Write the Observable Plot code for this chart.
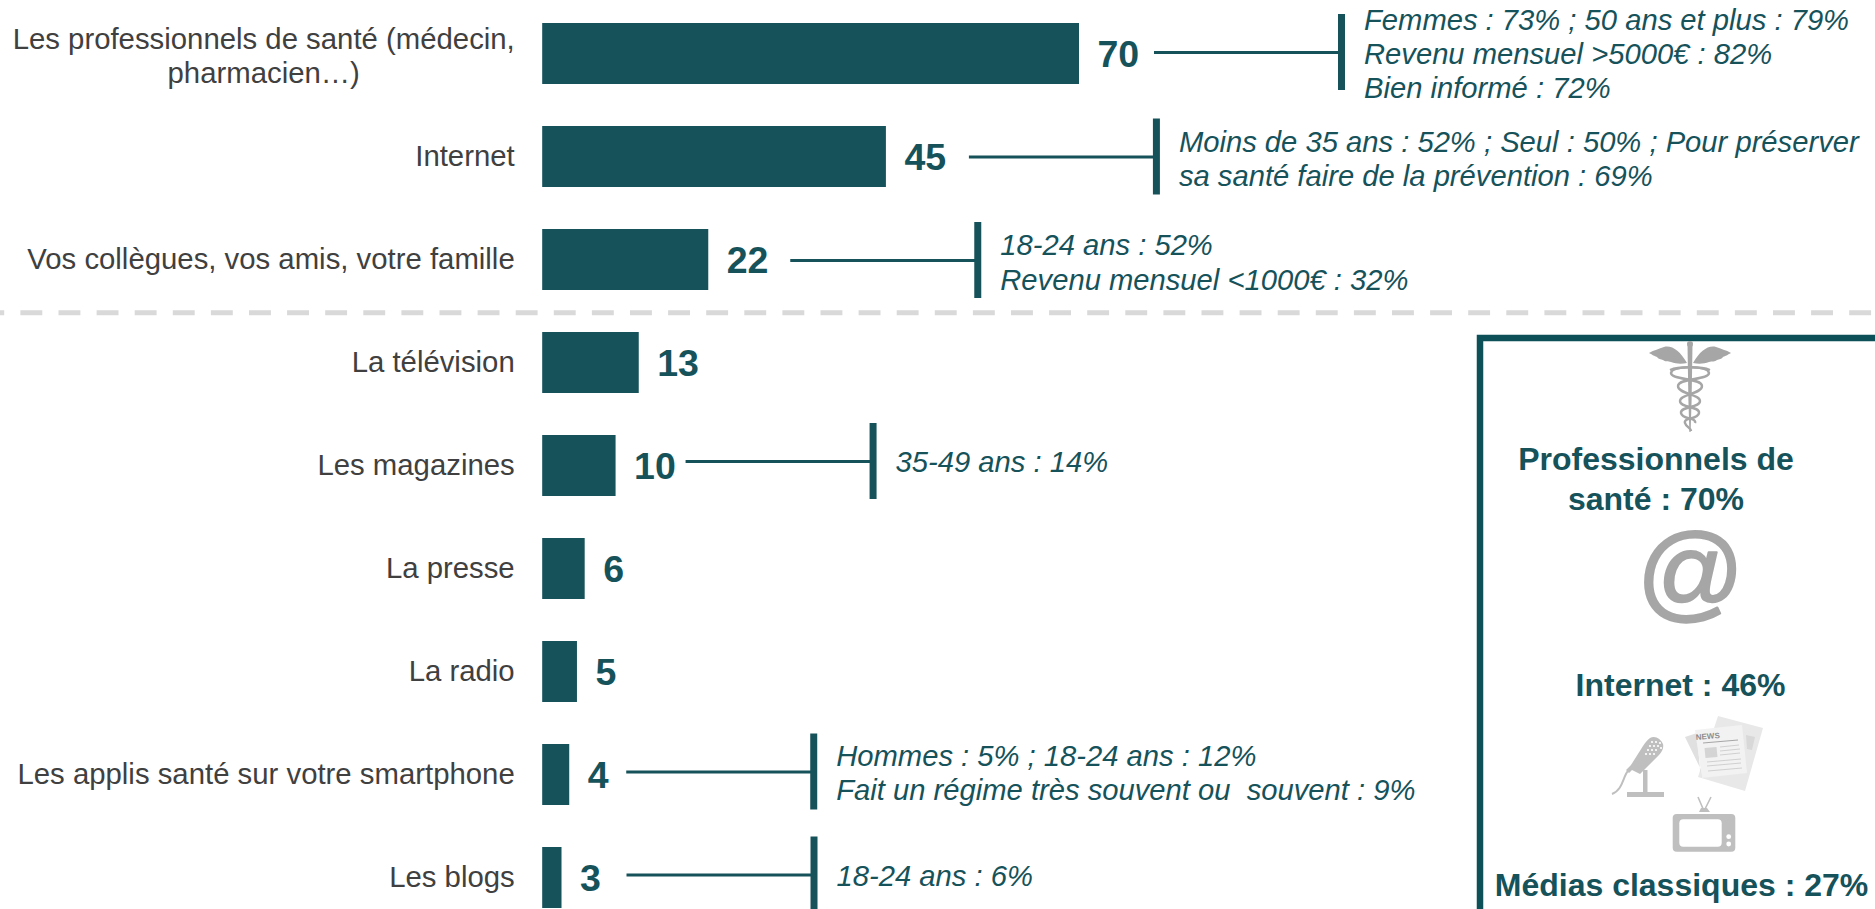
<!DOCTYPE html>
<html lang="fr">
<head>
<meta charset="utf-8">
<title>Sources d'information santé</title>
<style>
html,body{margin:0;padding:0;background:#fff;overflow:hidden}
svg{display:block}
</style>
<script src="https://cdn.jsdelivr.net/npm/d3@7"></script>
<script src="https://cdn.jsdelivr.net/npm/@observablehq/plot@0.6"></script>
</head>
<body>
<div id="chart"></div>
<script>
const categories = [
  "Les professionnels de santé (médecin,\npharmacien…)",
  "Internet",
  "Vos collègues, vos amis, votre famille",
  "La télévision",
  "Les magazines",
  "La presse",
  "La radio",
  "Les applis santé sur votre smartphone",
  "Les blogs"
];
const values = [70, 45, 22, 13, 10, 6, 5, 4, 3];
const notes = [
  "Femmes : 73% ; 50 ans et plus : 79%\nRevenu mensuel >5000€ : 82%\nBien informé : 72%",
  "Moins de 35 ans : 52% ; Seul : 50% ; Pour préserver\nsa santé faire de la prévention : 69%",
  "18-24 ans : 52%\nRevenu mensuel <1000€ : 32%",
  null,
  "35-49 ans : 14%",
  null,
  null,
  "Hommes : 5% ; 18-24 ans : 12%\nFait un régime très souvent ou  souvent : 9%",
  "18-24 ans : 6%"
];
const panelTitles = ["Professionnels de\nsanté : 70%", "Internet : 46%", "Médias classiques : 27%"];

const teal = "#16525a";
const borderTeal = "#0e5058";
const labelGrey = "#404040";
const iconGrey = "#a6a6a6";
const axisStart = 0.5;
const domainEnd = 70;
const rangeX = [542.2, 1079];
const pxPerUnit = (rangeX[1] - rangeX[0]) / (domainEnd - axisStart);

const rows = categories.map((category, i) => ({category, value: values[i], note: notes[i]}));

// Placement of the annotation brackets (pixels from the end of each bar)
const bracketGap = [75, 83, 82, null, 70, null, null, 57, 65];
const bracketDy = [-1.5, 0, 0.5, null, -4.5, null, null, -3, -3];
const noteDy = [-1, 1, 1.5, null, -5.5, null, null, -3, -3.5];
const bracketLength = 187;

const annotationMarks = rows.flatMap((d, i) => {
  if (!d.note) return [];
  const start = d.value + bracketGap[i] / pxPerUnit;
  const end = start + bracketLength / pxPerUnit;
  return [
    Plot.ruleY([d], {y: "category", x1: () => start, x2: () => end, dy: bracketDy[i], stroke: teal, strokeWidth: 3}),
    Plot.tickX([d], {x: () => end, y: "category", dy: bracketDy[i], insetTop: -7.5, insetBottom: -7.5, stroke: teal, strokeWidth: 7}),
    Plot.text([d], {x: () => end, y: "category", text: "note", dx: 22.5, dy: noteDy[i], textAnchor: "start", lineHeight: 1.18, fontStyle: "italic", fontSize: 29.2, fill: teal})
  ];
});

function panel() {
  const g = d3.create("svg:g");
  g.append("path").attr("d", "M1877,338H1480V911").attr("fill", "none").attr("stroke", borderTeal).attr("stroke-width", 6.5);

  // caduceus
  const c = g.append("g").attr("fill", iconGrey);
  c.append("path").attr("d", "M1687.5,345H1692.5L1691.6,400L1690.6,432H1689.4L1688.4,400Z");
  c.append("circle").attr("cx", 1690).attr("cy", 344).attr("r", 3);
  const wing = "M1687,363C1680,351 1672,345 1664,347C1659,349 1654,350 1649,353C1653,355 1654,356 1657,357C1658,359 1661,359 1663,360C1665,362 1668,361 1671,362C1676,364 1682,364 1687,363Z";
  c.append("path").attr("d", wing);
  c.append("path").attr("d", wing).attr("transform", "translate(3380,0) scale(-1,1)");
  const snake = g.append("g").attr("fill", "none").attr("stroke", iconGrey).attr("stroke-width", 2.4);
  snake.append("path").attr("d", "M1710,370C1700,366 1672,366 1671,373C1671,380 1702,378 1702,386C1702,394 1680,394 1680,401C1680,408 1700,406 1699,413C1698,420 1683,417 1685,423C1686,427 1691,428 1691,431");
  snake.append("path").attr("d", "M1670,370C1680,366 1708,366 1709,373C1709,380 1678,378 1678,386C1678,394 1700,394 1700,401C1700,408 1680,406 1681,413C1682,420 1697,417 1695,423");

  // microphone
  const m = g.append("g");
  m.append("path").attr("d", "M1650,738C1655,735 1661,739 1663,744C1664,748 1662,752 1659,755L1640,774L1632,770L1629,773L1626,770L1631,765L1643,746C1645,743 1647,740 1650,738Z").attr("fill", "#bfbfbf");
  m.append("path").attr("d", "M1628,771C1623,776 1623,790 1612,794").attr("fill", "none").attr("stroke", "#bfbfbf").attr("stroke-width", 2);
  m.append("rect").attr("x", 1643).attr("y", 770).attr("width", 4.5).attr("height", 23).attr("fill", "#bfbfbf");
  m.append("rect").attr("x", 1627).attr("y", 792).attr("width", 37).attr("height", 5).attr("fill", "#bfbfbf");
  for (const [x, y] of [[1652,742],[1656,742],[1660,743],[1650,746],[1654,746],[1658,746],[1661,748],[1648,750],[1652,750],[1656,750],[1646,754],[1650,754],[1654,754]]) {
    m.append("circle").attr("cx", x).attr("cy", y).attr("r", 1.1).attr("fill", "#fff");
  }

  // newspaper
  const n = g.append("g");
  n.append("path").attr("d", "M1718,716L1763,728L1745,791L1698,777Z").attr("fill", "#e8e8e8");
  n.append("path").attr("d", "M1685,737L1697,733L1700,770L1702,778L1705,778Z").attr("fill", "#e0e0e0");
  n.append("path").attr("d", "M1695,730L1742,725L1747,773L1702,778Z").attr("fill", "#f2f2f2");
  n.append("text").attr("x", 1708).attr("y", 739).attr("font-size", 8).attr("font-weight", "bold").attr("fill", "#8c8c8c").attr("transform", "rotate(-5 1708 739)").text("NEWS");
  n.append("path").attr("d", "M1703,743L1738,740").attr("stroke", "#a6a6a6").attr("stroke-width", 1.2);
  n.append("path").attr("d", "M1704.5,748L1716.5,747L1717.5,757L1705.5,758Z").attr("fill", "#d4d4d4");
  n.append("path").attr("d", "M1720,747L1739,745M1720,751L1740,749M1720,755L1740,753M1707,762L1741,759M1707,766L1741,763M1708,771L1742,768").attr("stroke", "#d0d0d0").attr("stroke-width", 1.1);
  n.append("path").attr("d", "M1746,735L1755,737L1752,750L1747,749Z").attr("fill", "#d8d8d8");

  // television
  const t = g.append("g");
  t.append("path").attr("d", "M1698,797L1704,811M1711,797L1704,811").attr("stroke", "#bfbfbf").attr("stroke-width", 1.6);
  t.append("path").attr("d", "M1699,812L1701,808H1707L1710,812Z").attr("fill", "#bfbfbf");
  t.append("rect").attr("x", 1672.7).attr("y", 814).attr("width", 62.6).attr("height", 37.7).attr("rx", 4).attr("fill", "#bfbfbf");
  t.append("rect").attr("x", 1679.3).attr("y", 819.3).attr("width", 42.4).attr("height", 27.4).attr("rx", 4).attr("fill", "#fff");
  t.append("circle").attr("cx", 1728.7).attr("cy", 836.7).attr("r", 2.4).attr("fill", "#fff");
  t.append("circle").attr("cx", 1728.7).attr("cy", 844).attr("r", 2.4).attr("fill", "#fff");
  return g.node();
}

const panelText = (text, dx, dy) => Plot.text([text], {
  text: d => d, frameAnchor: "top-left", dx, dy, textAnchor: "middle", lineAnchor: "middle", lineHeight: 1.25,
  fontSize: 32, fontWeight: "bold", fill: teal
});

const chart = Plot.plot({
  width: 1875,
  height: 909,
  margin: 0,
  style: {fontFamily: "'Liberation Sans', Arial, sans-serif", background: "#fff"},
  x: {domain: [axisStart, domainEnd], range: rangeX, axis: null},
  y: {type: "band", domain: categories, range: [23, 908], paddingInner: 42 / 103, paddingOuter: 0, round: false, axis: null},
  marks: [
    Plot.ruleY([categories[2]], {dy: 52.7, stroke: "#d9d9d9", strokeWidth: 5, strokeDasharray: "21.9,16.2", strokeDashoffset: 17.7}),
    Plot.barX(rows, {x1: () => axisStart, x2: "value", y: "category", fill: teal}),
    Plot.text(rows.slice(0, 1), {x: () => axisStart, y: "category", text: "category", dx: -279, dy: 1, textAnchor: "middle", lineHeight: 1.18, fontSize: 29.33, fill: labelGrey}),
    Plot.text(rows.slice(1), {x: () => axisStart, y: "category", text: "category", dx: -28, textAnchor: "end", fontSize: 29.33, fill: labelGrey}),
    Plot.text(rows, {x: "value", y: "category", text: d => String(d.value), dx: 18, dy: 0.5, textAnchor: "start", fontSize: 37.5, fontWeight: "bold", fill: teal}),
    ...annotationMarks,
    panel,
    Plot.text(["@"], {text: d => d, frameAnchor: "top-left", dx: 1690, dy: 574, textAnchor: "middle", lineAnchor: "middle", fontSize: 106, fill: iconGrey, stroke: iconGrey, strokeWidth: 2}),
    panelText(panelTitles[0], 1655.5, 476.5),
    panelText(panelTitles[1], 1680, 682.5),
    panelText(panelTitles[2], 1681, 883)
  ]
});
document.getElementById("chart").append(chart);
</script>
</body>
</html>
